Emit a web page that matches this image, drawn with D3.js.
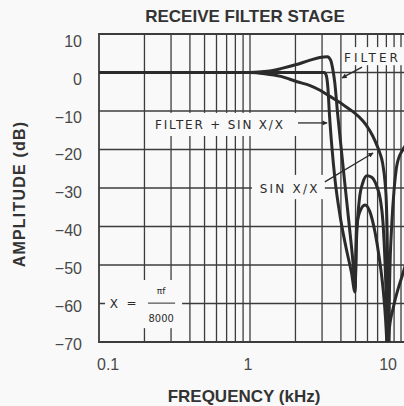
<!DOCTYPE html>
<html>
<head>
<meta charset="utf-8">
<script src="https://cdn.jsdelivr.net/npm/d3@7/dist/d3.min.js"></script>
<style>
  body { margin: 0; background: #f9f9f9; }
  svg { display: block; }
</style>
</head>
<body>
<div id="chart"></div>
<script>
// Receive filter stage - amplitude (dB) vs frequency (kHz), log x axis

// grid lines of the log paper
const freqGrid = [0.2, 0.3, 0.4, 0.5, 0.6, 0.7, 0.8, 0.9, 1, 2, 3, 4, 5, 6, 7, 8, 9, 10];
const dbGrid = [0, -10, -20, -30, -40, -50, -60];
const dbTicks = [10, 0, -10, -20, -30, -40, -50, -60, -70];
const freqTicks = [0.1, 1, 10];
const freqTickLabels = ["0.1", "1", "10"];

// curves as [kHz, dB]
const filterCurve = [
    [0.1, 0], [1.0, 0], [1.3, 0.3], [1.6, 1.0], [2.0, 2.0], [2.5, 3.2], [2.9, 3.9],
    [3.25, 4.1], [3.42, 3.2], [3.52, 1.2], [3.64, -2.5], [3.8, -10.5], [4.0, -19],
    [4.25, -29], [4.55, -40], [4.8, -49], [4.96, -56], [5.08, -43], [5.3, -33],
    [5.6, -28.5], [5.95, -26.8], [6.4, -27.2], [6.9, -29.5], [7.3, -33], [7.6, -39],
    [7.85, -50], [8.05, -64], [8.15, -76], [8.35, -67], [8.9, -61], [9.6, -56],
    [10.15, -53], [10.7, -50]
];
const combinedCurve = [
    [0.1, 0], [3.1, 0], [3.2, -0.8], [3.28, -4], [3.36, -11], [3.48, -19],
    [3.66, -28], [3.94, -37], [4.3, -45], [4.7, -52], [4.96, -57], [5.07, -41],
    [5.3, -36.5], [5.78, -34.4], [6.2, -36], [6.73, -41.5], [7.2, -48.5],
    [7.6, -56], [7.9, -64], [8.07, -71], [8.2, -80]
];
const sincCurve = [
    [0.1, 0], [1.0, 0], [1.25, -0.3], [1.6, -1.0], [2.05, -2.4], [2.5, -3.4],
    [2.91, -4.6], [3.39, -6.2], [3.94, -7.8], [4.39, -9.1], [4.9, -10.4],
    [5.6, -12.6], [5.96, -14], [6.5, -16.5], [6.94, -19], [7.26, -21],
    [7.55, -23.5], [7.84, -28.5], [8.0, -34], [8.15, -50], [8.25, -80],
    [8.4, -55], [8.7, -39], [9.0, -30.5], [9.4, -24], [10.3, -20], [10.7, -19]
];

function createChart() {
    const width = 404;
    const height = 406;
    const ink = "#2b2b2b";
    const grid = "#3c3c3c";

    const svg = d3.select("#chart").append("svg")
        .attr("width", width)
        .attr("height", height)
        .style("background", "#f9f9f9");

    const x = d3.scaleLog().domain([0.1, 10]).range([99, 401]);
    const y = d3.scaleLinear().domain([10, -70]).range([34, 342]);
    // printed tick numbers sit a little below their grid lines
    const yLabel = d3.scaleLinear().domain([10, -70]).range([41, 344]);

    const plotRight = width;

    svg.append("defs").append("clipPath")
        .attr("id", "plot-clip")
        .append("rect")
        .attr("x", x(0.1))
        .attr("y", y(10))
        .attr("width", plotRight - x(0.1))
        .attr("height", y(-70) - y(10));

    svg.select("defs").append("marker")
        .attr("id", "arrow")
        .attr("viewBox", "0 0 10 10")
        .attr("refX", 9)
        .attr("refY", 5)
        .attr("markerWidth", 7)
        .attr("markerHeight", 5)
        .attr("orient", "auto")
        .attr("markerUnits", "userSpaceOnUse")
        .append("path")
        .attr("d", "M0,0 L10,5 L0,10 Z")
        .style("fill", ink);

    // vertical grid
    svg.append("g")
        .selectAll("line")
        .data(freqGrid)
        .enter().append("line")
        .attr("x1", d => x(d))
        .attr("x2", d => x(d))
        .attr("y1", y(10))
        .attr("y2", y(-70))
        .style("stroke", grid)
        .style("stroke-width", 1.3);

    // horizontal grid
    svg.append("g")
        .selectAll("line")
        .data(dbGrid)
        .enter().append("line")
        .attr("x1", x(0.1))
        .attr("x2", plotRight)
        .attr("y1", d => y(d))
        .attr("y2", d => y(d))
        .style("stroke", grid)
        .style("stroke-width", 1.6);

    // frame (left, top, bottom)
    svg.append("path")
        .attr("d", `M${plotRight},${y(10)} H${x(0.1)} V${y(-70)} H${plotRight}`)
        .style("fill", "none")
        .style("stroke", grid)
        .style("stroke-width", 1.8);

    // white patches behind the lettering
    const bg = "#f9f9f9";
    const boxes = [
        { f0: 4.13, f1: 10.6, d0: 6.6, d1: 1.9 },
        { f0: 0.211, f1: 2.08, d0: -10.5, d1: -16.5 },
        { f0: 1.03, f1: 3.13, d0: -26.6, d1: -32.9 },
        { f0: 0.1096, f1: 0.355, d0: -53.9, d1: -66.4 }
    ];
    svg.append("g")
        .selectAll("rect")
        .data(boxes)
        .enter().append("rect")
        .attr("x", d => x(d.f0))
        .attr("y", d => y(d.d0))
        .attr("width", d => x(d.f1) - x(d.f0))
        .attr("height", d => y(d.d1) - y(d.d0))
        .style("fill", bg);

    // curves
    const line = d3.line()
        .x(d => x(d[0]))
        .y(d => y(d[1]))
        .curve(d3.curveMonotoneX);

    const curves = svg.append("g").attr("clip-path", "url(#plot-clip)");
    [sincCurve, combinedCurve, filterCurve].forEach(c => {
        curves.append("path")
            .datum(c)
            .attr("d", line)
            .style("fill", "none")
            .style("stroke", ink)
            .style("stroke-width", 3)
            .style("stroke-linejoin", "round");
    });

    // annotations
    const note = (f, db, txt, spacing) => svg.append("text")
        .attr("x", x(f))
        .attr("y", y(db))
        .style("font-family", "DejaVu Sans, sans-serif")
        .style("font-size", "12px")
        .style("letter-spacing", spacing + "px")
        .style("fill", ink)
        .text(txt);

    note(4.2, 2.6, "FILTER", 3);
    note(0.235, -14.7, "FILTER + SIN X/X", 1.8);
    note(1.16, -31.3, "SIN X/X", 2.2);

    const arrow = (fa, da, fb, db) => svg.append("line")
        .attr("x1", x(fa)).attr("y1", y(da))
        .attr("x2", x(fb)).attr("y2", y(db))
        .style("stroke", ink)
        .style("stroke-width", 1.3)
        .attr("marker-end", "url(#arrow)");

    arrow(5.52, 1.4, 4.07, -1.4);
    arrow(2.08, -13.1, 3.24, -13.1);
    arrow(3.13, -28.4, 6.53, -20.9);

    // X = pi f / 8000
    note(0.118, -61.2, "X", 0);
    note(0.152, -61.0, "=", 0);
    svg.append("text")
        .attr("x", x(0.258))
        .attr("y", y(-57.6))
        .attr("text-anchor", "middle")
        .style("font-family", "DejaVu Sans, sans-serif")
        .style("font-size", "9px")
        .style("fill", ink)
        .text("πf");
    svg.append("line")
        .attr("x1", x(0.211)).attr("x2", x(0.319))
        .attr("y1", y(-59.9)).attr("y2", y(-59.9))
        .style("stroke", ink)
        .style("stroke-width", 1);
    svg.append("text")
        .attr("x", x(0.258))
        .attr("y", y(-64.8))
        .attr("text-anchor", "middle")
        .style("font-family", "DejaVu Sans Condensed, DejaVu Sans, sans-serif")
        .style("font-size", "11px")
        .style("fill", ink)
        .text("8000");

    // y tick labels
    svg.append("g")
        .selectAll("text")
        .data(dbTicks)
        .enter().append("text")
        .attr("x", 82)
        .attr("y", d => yLabel(d))
        .attr("dy", "0.36em")
        .attr("text-anchor", "end")
        .style("font-family", "Liberation Sans, Arial, sans-serif")
        .style("font-size", "16px")
        .style("fill", "#484848")
        .text(d => d < 0 ? "\u2212" + Math.abs(d) : d);

    // x tick labels
    const anchors = ["start", "middle", "end"];
    const shifts = [-2, -2, -4];
    svg.append("g")
        .selectAll("text")
        .data(freqTicks)
        .enter().append("text")
        .attr("x", (d, i) => x(d) + shifts[i])
        .attr("y", 370)
        .attr("text-anchor", (d, i) => anchors[i])
        .style("font-family", "Liberation Sans, Arial, sans-serif")
        .style("font-size", "16px")
        .style("fill", "#484848")
        .text((d, i) => freqTickLabels[i]);

    // titles
    svg.append("text")
        .attr("x", 245)
        .attr("y", 22)
        .attr("text-anchor", "middle")
        .style("font-family", "Liberation Sans, Arial, sans-serif")
        .style("font-size", "17px")
        .style("font-weight", "bold")
        .style("fill", "#333")
        .text("RECEIVE FILTER STAGE");

    svg.append("text")
        .attr("x", 244)
        .attr("y", 402)
        .attr("text-anchor", "middle")
        .style("font-family", "Liberation Sans, Arial, sans-serif")
        .style("font-size", "17px")
        .style("font-weight", "bold")
        .style("fill", "#333")
        .text("FREQUENCY (kHz)");

    svg.append("text")
        .attr("transform", "translate(25, 194) rotate(-90)")
        .attr("text-anchor", "middle")
        .style("font-family", "Liberation Sans, Arial, sans-serif")
        .style("font-size", "16px")
        .style("font-weight", "bold")
        .style("letter-spacing", "1.2px")
        .style("fill", "#333")
        .text("AMPLITUDE (dB)");
}

createChart();
</script>
</body>
</html>
